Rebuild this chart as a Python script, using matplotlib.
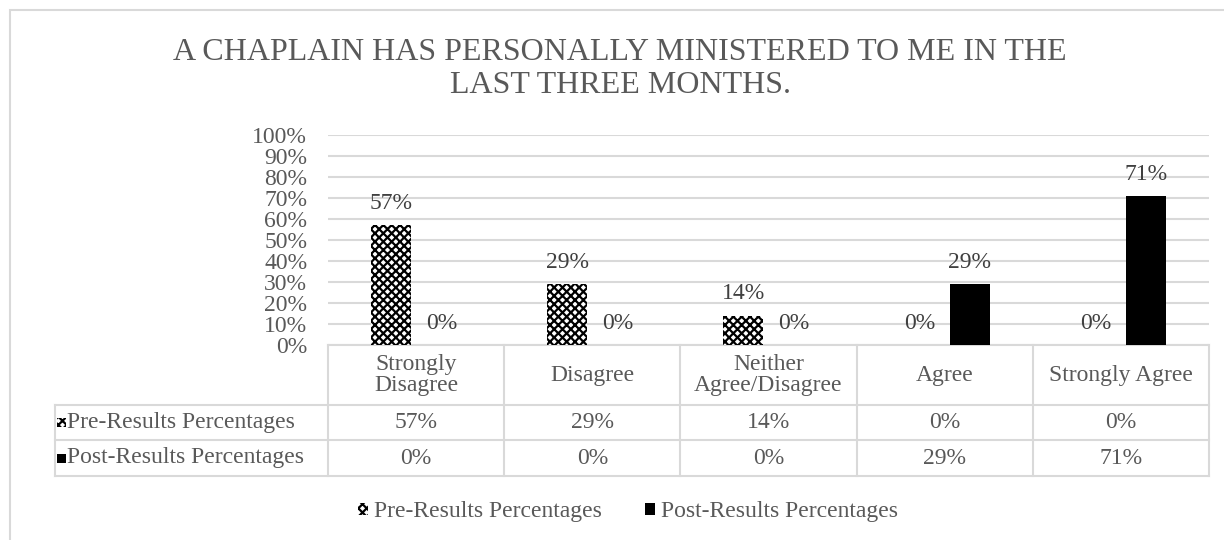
import matplotlib
matplotlib.use("Agg")
import matplotlib.pyplot as plt
import matplotlib.transforms as mtransforms
from matplotlib.patches import Rectangle, Patch
from matplotlib.lines import Line2D
import numpy as np

# ---------------- data ----------------
title = "A CHAPLAIN HAS PERSONALLY MINISTERED TO ME IN THE\nLAST THREE MONTHS."
categories = ["Strongly\nDisagree", "Disagree", "Neither\nAgree/Disagree", "Agree", "Strongly Agree"]
series_names = ["Pre-Results Percentages", "Post-Results Percentages"]
pre_values = [0.57, 0.29, 0.14, 0.00, 0.00]
post_values = [0.00, 0.00, 0.00, 0.29, 0.71]
y_ticks = [0.0, 0.1, 0.2, 0.3, 0.4, 0.5, 0.6, 0.7, 0.8, 0.9, 1.0]

# ---------------- style ----------------
plt.rcParams['font.family'] = ['Liberation Serif', 'DejaVu Serif']
plt.rcParams['hatch.linewidth'] = 1.6
TXT = "#595959"
LBL = "#404040"
GRID = "#d9d9d9"
FS = 17
W, H = 1224, 540

fig = plt.figure(figsize=(W / 100, H / 100), dpi=100)
fig.patch.set_facecolor("white")

def fx(px):
    return px / W

def fy(py):
    return 1 - py / H

# chart-area border (left + top visible, right/bottom beyond the picture)
fig.patches.append(Rectangle((fx(10), fy(560)), fx(1240) - fx(10), fy(10) - fy(560),
                             transform=fig.transFigure, fill=False,
                             edgecolor=GRID, linewidth=1.5))

ax_l, ax_r, ax_t, ax_b = 328, 1209, 135, 345
ax = fig.add_axes([fx(ax_l), fy(ax_b), fx(ax_r) - fx(ax_l), fy(ax_t) - fy(ax_b)])
ax.set_facecolor("none")

n = len(categories)
x = np.arange(n)
bw = 0.225
off = 0.143

ax.bar(x - off, pre_values, bw, color="white", edgecolor="black", hatch="xxxx",
       linewidth=0, zorder=3)
ax.bar(x + off, post_values, bw, color="black", linewidth=0, zorder=3)

ax.set_xlim(-0.5, n - 0.5)
ax.set_ylim(0, 1)
ax.set_yticks(y_ticks)
ax.set_yticklabels([f"{int(round(v * 100))}%" for v in y_ticks])
ax.tick_params(axis="y", length=0, labelsize=FS, labelcolor=TXT, pad=15)
ax.set_xticks([])
for s in ax.spines.values():
    s.set_visible(False)
ax.yaxis.grid(True, color=GRID, linewidth=1.5, zorder=0)
ax.set_axisbelow(True)

# data labels
for xi, v in zip(x, pre_values):
    ax.annotate(f"{int(round(v * 100))}%", (xi - off, v), xytext=(0, 8),
                textcoords="offset points", ha="center", va="bottom",
                fontsize=FS, color=LBL)
for xi, v in zip(x, post_values):
    ax.annotate(f"{int(round(v * 100))}%", (xi + off, v), xytext=(0, 8),
                textcoords="offset points", ha="center", va="bottom",
                fontsize=FS, color=LBL)

# ---------------- data table ----------------
bl = mtransforms.blended_transform_factory(ax.transData, fig.transFigure)
px_per_unit = (ax_r - ax_l) / n
label_left = -0.5 - (ax_l - 55) / px_per_unit
rows_y = [345, 405, 440, 476]  # header top, pre top, post top, bottom

line_kw = dict(color=GRID, linewidth=1.5, transform=bl, clip_on=False, zorder=1)
ax.add_line(Line2D([-0.5, n - 0.5], [fy(rows_y[0])] * 2, **line_kw))
for yy in rows_y[1:]:
    ax.add_line(Line2D([label_left, n - 0.5], [fy(yy)] * 2, **line_kw))
for i in range(n + 1):
    ax.add_line(Line2D([i - 0.5] * 2, [fy(rows_y[0]), fy(rows_y[3])], **line_kw))
ax.add_line(Line2D([label_left] * 2, [fy(rows_y[1]), fy(rows_y[3])], **line_kw))

hdr_c = fy((rows_y[0] + rows_y[1]) / 2)
for xi, c in zip(x, categories):
    ax.text(xi, hdr_c, c, transform=bl, ha="center", va="center", fontsize=FS,
            color=TXT, linespacing=1.0)

for r, (name, vals) in enumerate(zip(series_names, [pre_values, post_values])):
    yc = fy((rows_y[r + 1] + rows_y[r + 2]) / 2)
    for xi, v in zip(x, vals):
        ax.text(xi, yc, f"{int(round(v * 100))}%", transform=bl, ha="center",
                va="center", fontsize=FS, color=TXT)
    ax.text(label_left + 12 / px_per_unit, yc, name, transform=bl, ha="left",
            va="center", fontsize=FS, color=TXT)
    kx = label_left + 2 / px_per_unit
    kh = 9 / H
    if r == 0:
        key = Rectangle((kx, yc - kh / 2), 9 / px_per_unit, kh, transform=bl,
                        facecolor="white", edgecolor="black", hatch="xxxx",
                        linewidth=0, clip_on=False)
    else:
        key = Rectangle((kx, yc - kh / 2), 9 / px_per_unit, kh, transform=bl,
                        facecolor="black", linewidth=0, clip_on=False)
    ax.add_patch(key)

# ---------------- legend ----------------
handles = [Patch(facecolor="white", edgecolor="black", hatch="xxxx", linewidth=0),
           Patch(facecolor="black", linewidth=0)]
fig.legend(handles, series_names, loc="center", bbox_to_anchor=(fx(628), fy(512)),
           ncol=2, frameon=False, fontsize=FS, labelcolor=TXT,
           handlelength=0.45, handleheight=0.45, handletextpad=0.25,
           columnspacing=1.8)

# ---------------- title ----------------
fig.text(fx(620), fy(69), title, ha="center", va="center", fontsize=23,
         color=TXT, linespacing=1.15)

fig.savefig("out.png", dpi=100, facecolor="white")
